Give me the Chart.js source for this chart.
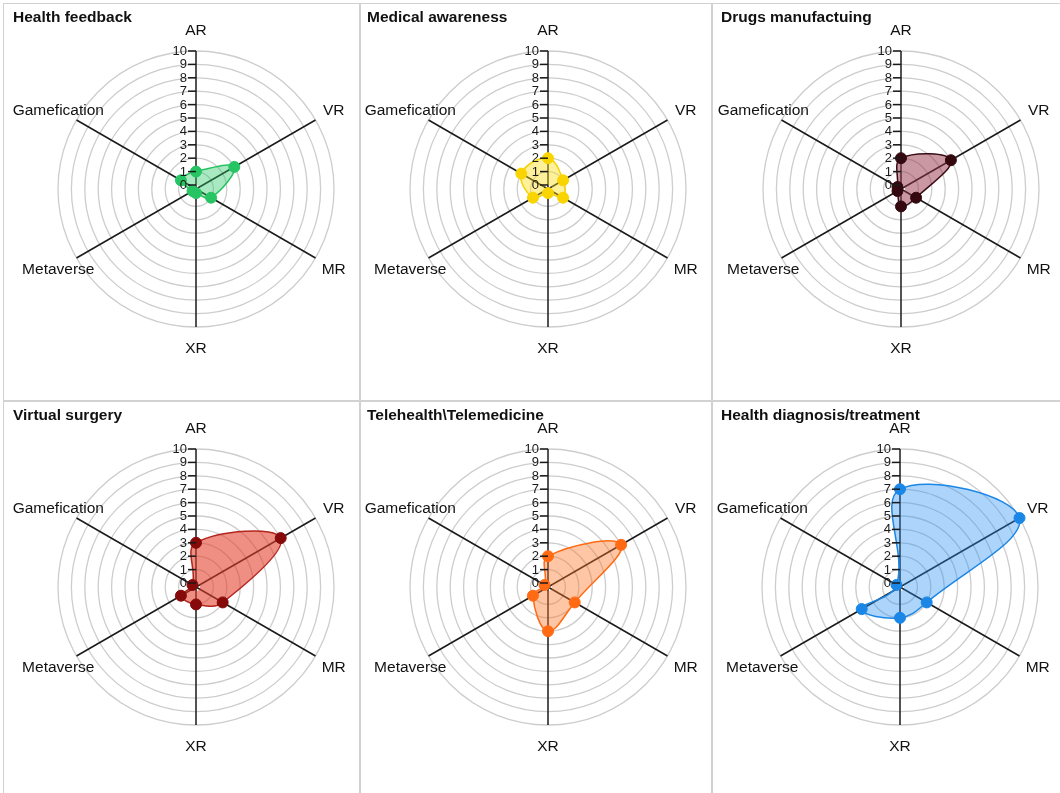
<!DOCTYPE html>
<html>
<head>
<meta charset="utf-8">
<script src="https://cdn.jsdelivr.net/npm/chart.js@4.4.1/dist/chart.umd.min.js"></script>
<style>
    body { margin: 0; background: #fff; width: 1060px; height: 793px; overflow: hidden; position: relative; font-family: "Liberation Sans", Arial, sans-serif; }
    canvas { position: absolute; }
    .title { position: absolute; font-weight: bold; font-size: 15.5px; line-height: 15.5px; color: #111; white-space: nowrap; }
    .line { position: absolute; background: #d2d2d2; }
</style>
</head>
<body>
<div class="line" style="left:3px;top:3px;width:1057px;height:1px"></div>
<div class="line" style="left:3px;top:3px;width:1px;height:790px"></div>
<div class="line" style="left:359px;top:3px;width:2px;height:790px"></div>
<div class="line" style="left:711px;top:3px;width:2px;height:790px"></div>
<div class="line" style="left:3px;top:400px;width:1057px;height:2px"></div>

<script>
// axes and tick labels
const axes = ['AR', 'VR', 'MR', 'XR', 'Metaverse', 'Gamefication'];
const tickValues = [0, 1, 2, 3, 4, 5, 6, 7, 8, 9, 10];

// values per panel, in axis order
const healthFeedback = [1, 3, 1, 0, 0, 1];
const medicalAwareness = [2, 1, 1, 0, 1, 2];
const drugsManufacturing = [2, 4, 1, 1, 0, 0];
const virtualSurgery = [3, 7, 2, 1, 1, 0];
const telehealth = [2, 6, 2, 3, 1, 0];
const healthDiagnosis = [7, 10, 2, 2, 3, 0];

const panelTitles = ['Health feedback', 'Medical awareness', 'Drugs manufactuing',
    'Virtual surgery', 'Telehealth\\Telemedicine', 'Health diagnosis/treatment'];
const panelData = [healthFeedback, medicalAwareness, drugsManufacturing,
    virtualSurgery, telehealth, healthDiagnosis];

const panelColors = [
    { line: '#27c262', fill: 'rgba(40, 200, 100, 0.4)', point: '#26c463' },
    { line: '#f7d200', fill: 'rgba(255, 222, 20, 0.42)', point: '#f9d400' },
    { line: '#3a0c16', fill: 'rgba(150, 50, 70, 0.5)', point: '#33090f' },
    { line: '#b3261e', fill: 'rgba(228, 60, 40, 0.58)', point: '#870a0a' },
    { line: '#ff6a13', fill: 'rgba(255, 120, 40, 0.42)', point: '#ff6a13' },
    { line: '#1a86e6', fill: 'rgba(40, 145, 245, 0.38)', point: '#1a86e6' }
];

const cols = [{ x: 4, w: 356 }, { x: 361, w: 351 }, { x: 713, w: 347 }];
const rows = [{ y: 4, h: 396 }, { y: 402, h: 391 }];
const centers = [[196, 189], [548, 189], [901, 189], [196, 587], [548, 587], [900, 587]];
const titleX = [13, 367, 721];
const R = 138;

const FONT = '"Liberation Sans", Arial, sans-serif';

const axisText = {
    id: 'axisText',
    afterDatasetsDraw(chart) {
        const scale = chart.scales.r;
        const ctx = chart.ctx;
        ctx.save();
        ctx.strokeStyle = '#1a1a1a';
        ctx.lineWidth = 1.5;
        ctx.fillStyle = '#1a1a1a';
        ctx.font = '13px ' + FONT;
        ctx.textAlign = 'right';
        ctx.textBaseline = 'middle';
        tickValues.forEach(v => {
            const p = scale.getPointPositionForValue(0, v);
            ctx.beginPath();
            ctx.moveTo(p.x - 8, p.y);
            ctx.lineTo(p.x, p.y);
            ctx.stroke();
            ctx.fillText(String(v), p.x - 9, p.y + 0.5);
        });
        ctx.font = '15.5px ' + FONT;
        ctx.textAlign = 'center';
        ctx.fillStyle = '#111';
        axes.forEach((name, i) => {
            const p = scale.getPointPosition(i, scale.drawingArea + 21);
            ctx.fillText(name, p.x, p.y + 1);
        });
        ctx.restore();
    }
};

function makePanel(i) {
    const col = cols[i % 3];
    const row = rows[Math.floor(i / 3)];
    const [cx, cy] = centers[i];
    const c = panelColors[i];

    const canvas = document.createElement('canvas');
    canvas.width = col.w;
    canvas.height = row.h;
    canvas.style.left = col.x + 'px';
    canvas.style.top = row.y + 'px';
    document.body.appendChild(canvas);

    const title = document.createElement('div');
    title.className = 'title';
    title.textContent = panelTitles[i];
    title.style.left = titleX[i % 3] + 'px';
    title.style.top = (row.y + 5) + 'px';
    document.body.appendChild(title);

    new Chart(canvas, {
        type: 'radar',
        data: {
            labels: axes,
            datasets: [{
                data: panelData[i],
                borderColor: c.line,
                backgroundColor: c.fill,
                borderWidth: 1.5,
                fill: true,
                tension: 0.4,
                pointRadius: 5.5,
                pointBackgroundColor: c.point,
                pointBorderColor: c.point,
                pointBorderWidth: 1
            }]
        },
        options: {
            responsive: false,
            animation: false,
            devicePixelRatio: 1,
            layout: {
                padding: {
                    left: cx - R - col.x,
                    right: col.x + col.w - (cx + R),
                    top: cy - R - row.y,
                    bottom: row.y + row.h - (cy + R)
                }
            },
            plugins: { legend: { display: false }, tooltip: { enabled: false } },
            scales: {
                r: {
                    min: -0.3,
                    max: 10,
                    ticks: { display: false, stepSize: 1 },
                    pointLabels: { display: false },
                    angleLines: { color: '#1a1a1a', lineWidth: 1.5 },
                    grid: {
                        circular: true,
                        lineWidth: 1.3,
                        color: ctx => (ctx.tick && ctx.tick.value <= 0) ? 'rgba(0,0,0,0)' : '#cdcdcd'
                    }
                }
            }
        },
        plugins: [axisText]
    });
}

for (let i = 0; i < 6; i++) makePanel(i);
</script>
</body>
</html>
